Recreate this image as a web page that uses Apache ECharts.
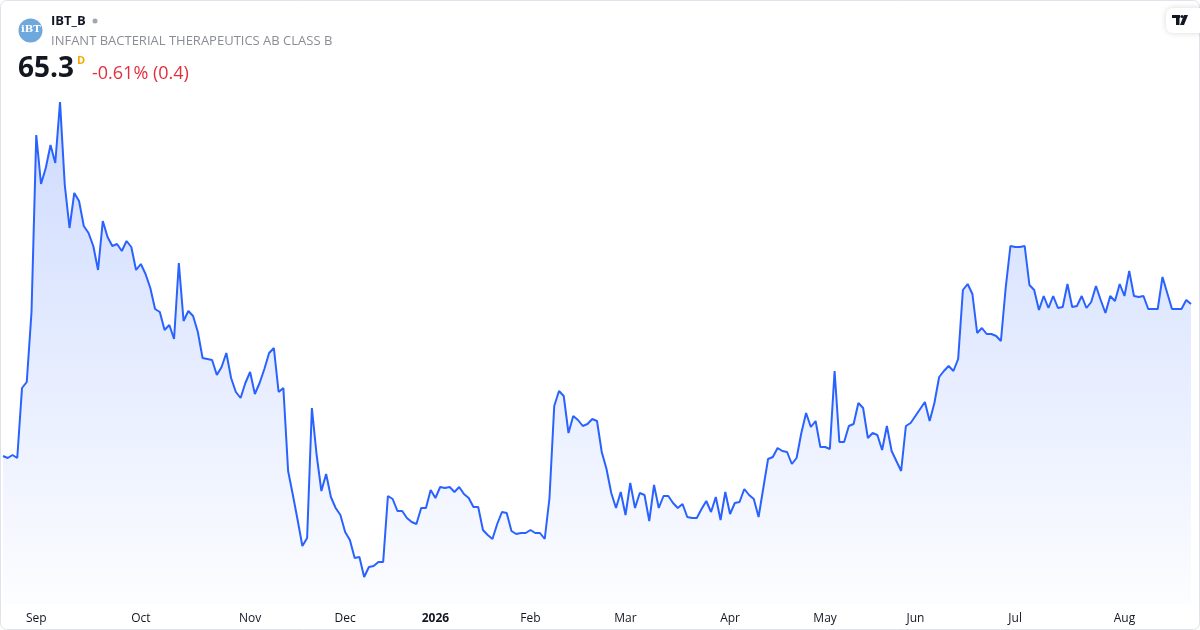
<!DOCTYPE html>
<html>
<head>
<meta charset="utf-8">
<title>IBT_B</title>
<script src="https://cdn.jsdelivr.net/npm/echarts@6/dist/echarts.min.js"></script>
<style>
html, body { margin:0; padding:0; background:#fff; }
#chart { width:1200px; height:630px; }
</style>
</head>
<body>
<div id="chart"></div>
<script>
// daily closes (one per trading day)
var prices = [
	50.1, 49.9, 50.2, 49.9, 56.9, 57.5, 64.5, 82.2, 77.3, 78.9,
	81.2, 79.4, 85.5, 77.2, 72.9, 76.4, 75.6, 73.1, 72.4, 71.1,
	68.7, 73.6, 72.0, 71.1, 71.3, 70.6, 71.6, 71.0, 68.7, 69.3,
	68.3, 66.9, 64.8, 64.5, 62.7, 63.2, 61.8, 69.4, 63.6, 64.6,
	64.1, 62.5, 59.9, 59.8, 59.7, 58.2, 59.0, 60.4, 57.9, 56.5,
	55.9, 57.4, 58.5, 56.3, 57.4, 58.8, 60.4, 60.9, 56.5, 56.9,
	48.6, 46.2, 43.7, 41.1, 41.9, 54.9, 50.2, 46.6, 48.3, 46.0,
	44.9, 44.2, 42.5, 41.7, 39.9, 40.0, 38.0, 39.0, 39.1, 39.5,
	39.5, 46.1, 45.8, 44.6, 44.6, 43.9, 43.5, 43.3, 44.9, 44.9,
	46.7, 45.9, 47.0, 46.9, 47.0, 46.5, 47.0, 46.3, 45.9, 45.0,
	45.0, 42.7, 42.2, 41.8, 43.3, 44.5, 44.4, 42.6, 42.3, 42.4,
	42.4, 42.7, 42.4, 42.4, 41.8, 45.9, 55.1, 56.6, 56.1, 52.4,
	54.1, 53.7, 53.1, 53.3, 53.8, 53.6, 50.5, 48.8, 46.4, 44.9,
	46.5, 44.2, 47.4, 44.9, 46.4, 46.2, 43.6, 47.2, 44.9, 46.1,
	46.1, 45.4, 44.9, 45.3, 44.0, 43.9, 43.9, 44.8, 45.6, 44.5,
	46.0, 43.7, 46.5, 44.3, 45.4, 45.5, 46.8, 46.2, 45.8, 44.0,
	46.9, 49.8, 50.0, 50.9, 50.6, 50.5, 49.3, 49.9, 52.4, 54.4,
	53.0, 53.6, 51.0, 51.0, 50.8, 58.6, 51.5, 51.5, 53.1, 53.3,
	55.4, 54.9, 51.9, 52.4, 52.2, 50.7, 53.1, 50.6, 49.6, 48.6,
	53.1, 53.4, 54.1, 54.8, 55.5, 53.6, 55.4, 58.0, 58.6, 59.1,
	58.6, 59.8, 66.7, 67.3, 66.3, 62.4, 62.9, 62.3, 62.3, 62.1,
	61.6, 66.9, 71.1, 71.0, 71.0, 71.1, 67.2, 66.7, 64.7, 66.1,
	64.9, 66.1, 64.9, 65.0, 67.3, 65.0, 65.1, 66.1, 64.9, 65.5,
	67.1, 65.7, 64.4, 66.1, 65.6, 67.3, 66.1, 68.6, 66.1, 66.0,
	66.1, 64.8, 64.8, 64.8, 68.0, 66.4, 64.8, 64.8, 64.8, 65.7,
	65.3
];

var startDay = "2025-08-21";
var endDay = "2026-08-21";
var holidays = ["2025-12-24","2025-12-25","2025-12-26","2025-12-31","2026-01-01","2026-01-06",
	"2026-04-03","2026-04-06","2026-05-01","2026-05-14","2026-06-19"];
var monthNames = ["Jan","Feb","Mar","Apr","May","Jun","Jul","Aug","Sep","Oct","Nov","Dec"];

var symbolName = "IBT_B";
var companyName = "INFANT BACTERIAL THERAPEUTICS AB CLASS B";
var lastPrice = "65.3";
var changeText = "-0.61% (0.4)";

// trading days: weekdays minus exchange holidays
var days = [];
var d = new Date(startDay + "T00:00:00Z");
var stop = new Date(endDay + "T00:00:00Z");
while (d <= stop) {
	var s = d.toISOString().substr(0, 10);
	var wd = d.getUTCDay();
	if (wd != 0 && wd != 6 && holidays.indexOf(s) < 0) {
		days.push(s);
	}
	d.setUTCDate(d.getUTCDate() + 1);
}

var isMonthStart = function(i){
	if (i == 0) return false;
	return days[i].substr(5, 2) != days[i-1].substr(5, 2);
};

var font = "'Open Sans', 'Noto Sans', sans-serif";

var myChart = echarts.init(document.getElementById("chart"));
var option = {
	animation: false,
	backgroundColor: "#fff",
	grid: { left: 3, right: 9, top: 95, bottom: 26 },
	xAxis: {
		type: "category",
		data: days,
		boundaryGap: false,
		axisLine: { show: false },
		axisTick: { show: false },
		splitLine: { show: false },
		axisLabel: {
			margin: 9,
			color: "#131722",
			fontSize: 12,
			fontFamily: font,
			interval: function(i, v){ return isMonthStart(i); },
			formatter: function(v){
				var m = parseInt(v.substr(5, 2), 10);
				if (m == 1) return "{y|" + v.substr(0, 4) + "}";
				return monthNames[m - 1];
			},
			rich: {
				y: { fontWeight: "bold", fontSize: 12, color: "#131722", fontFamily: font }
			}
		}
	},
	yAxis: {
		type: "value",
		min: 35.3,
		max: 86.2,
		show: false
	},
	series: [{
		type: "line",
		data: prices,
		showSymbol: false,
		lineStyle: { color: "#2962ff", width: 2 },
		itemStyle: { color: "#2962ff" },
		areaStyle: {
			origin: "start",
			color: new echarts.graphic.LinearGradient(0, 0, 0, 1, [
				{ offset: 0, color: "rgba(41,98,255,0.33)" },
				{ offset: 1, color: "rgba(41,98,255,0.02)" }
			])
		}
	}],
	graphic: [
		// card border
		{ type: "rect", z: -1, shape: { x: 0.5, y: 0.5, width: 1199, height: 629, r: 6 },
			style: { fill: "none", stroke: "#e0e3eb", lineWidth: 1 } },
		// logo
		{ type: "circle", shape: { cx: 30.5, cy: 30.5, r: 12 }, style: { fill: "#6fa8dc" } },
		{ type: "text", left: 21, top: 24, style: { text: "iBT", fill: "#fff", font: "bold 10px 'DejaVu Serif', serif" } },
		{ type: "text", left: 51, top: 15, style: { text: symbolName, fill: "#131722", font: "bold 13px " + font } },
		{ type: "circle", shape: { cx: 95, cy: 21, r: 2.5 }, style: { fill: "#a3a6af" } },
		{ type: "text", left: 51, top: 35, style: { text: companyName, fill: "#8a8d96", font: "13px " + font } },
		{ type: "text", left: 18, top: 55, style: { text: lastPrice, fill: "#131722", font: "bold 28px " + font } },
		{ type: "text", left: 77, top: 55, style: { text: "D", fill: "#f7a600", font: "bold 11px " + font } },
		{ type: "text", left: 92, top: 65, style: { text: changeText, fill: "#e0303e", font: "18px " + font } },
		// tradingview mark
		{ type: "rect", shape: { x: 1166, y: 8, width: 40, height: 25, r: 7 },
			style: { fill: "#fff", shadowBlur: 6, shadowColor: "rgba(0,0,0,0.15)" } },
		{ type: "rect", shape: { x: 1172, y: 15, width: 8, height: 3 }, style: { fill: "#131722" } },
		{ type: "rect", shape: { x: 1176, y: 15, width: 3.5, height: 10 }, style: { fill: "#131722" } },
		{ type: "circle", shape: { cx: 1182, cy: 16.5, r: 1.6 }, style: { fill: "#131722" } },
		{ type: "polygon", shape: { points: [[1184, 15], [1188, 15], [1184, 25], [1180, 25]] }, style: { fill: "#131722" } }
	]
};
myChart.setOption(option, true);
</script>
</body>
</html>
